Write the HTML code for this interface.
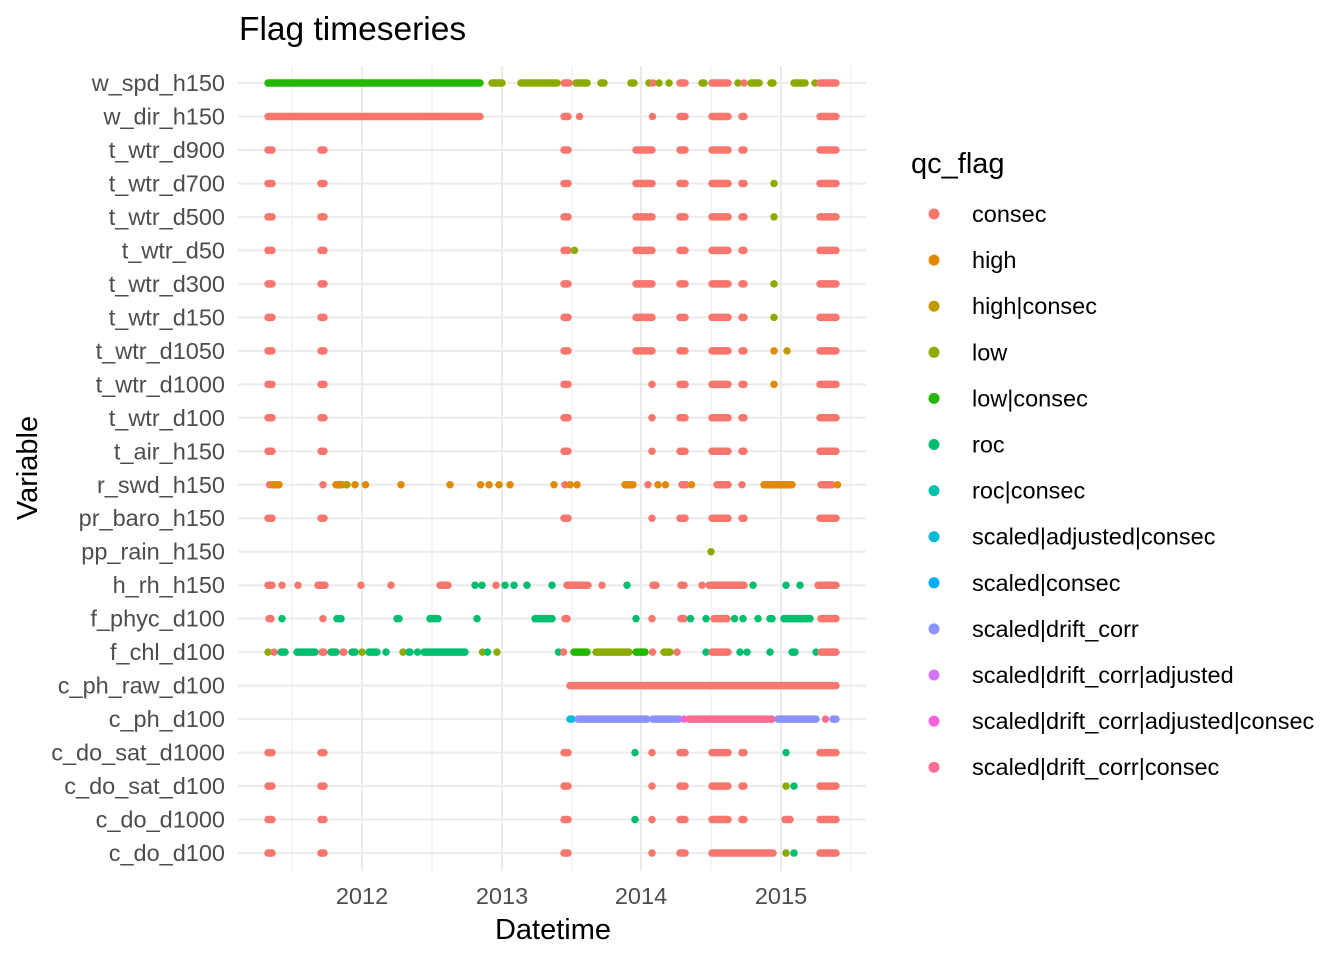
<!DOCTYPE html>
<html><head><meta charset="utf-8"><style>
body{margin:0;background:#fff}
svg text{font-family:"Liberation Sans",sans-serif}
</style></head><body>
<svg id="s" width="1344" height="960" xmlns="http://www.w3.org/2000/svg">
<rect width="1344" height="960" fill="#fff"/>
<g id="grid"></g><g id="data"></g>
<text x="239" y="40" font-size="33.5" fill="#000">Flag timeseries</text>
<g font-size="23.5" fill="#4D4D4D" text-anchor="middle">
<text x="362" y="904">2012</text><text x="502" y="904">2013</text><text x="641" y="904">2014</text><text x="781" y="904">2015</text>
</g>
<text x="553" y="939" font-size="29" text-anchor="middle" fill="#000">Datetime</text>
<text transform="translate(37,468) rotate(-90)" font-size="29" text-anchor="middle" fill="#000">Variable</text>
<g id="ylab" font-size="23.5" fill="#4D4D4D" text-anchor="end"></g>
<text x="911" y="173" font-size="29" fill="#000">qc_flag</text>
<g id="leg" font-size="23.5" fill="#000"></g>
</svg>
<script>
var ns="http://www.w3.org/2000/svg";
function el(p,t,a,txt){var e=document.createElementNS(ns,t);for(var k in a)e.setAttribute(k,a[k]);if(txt)e.textContent=txt;document.getElementById(p).appendChild(e);}
var names=["w_spd_h150","w_dir_h150","t_wtr_d900","t_wtr_d700","t_wtr_d500","t_wtr_d50","t_wtr_d300","t_wtr_d150","t_wtr_d1050","t_wtr_d1000","t_wtr_d100","t_air_h150","r_swd_h150","pr_baro_h150","pp_rain_h150","h_rh_h150","f_phyc_d100","f_chl_d100","c_ph_raw_d100","c_ph_d100","c_do_sat_d1000","c_do_sat_d100","c_do_d1000","c_do_d100"];
function Y(i){return 83+i*33.48;}
[292,432,572,711,851].forEach(function(x){el("grid","line",{x1:x,x2:x,y1:66,y2:871,stroke:"#EBEBEB","stroke-width":1});});
[362,502,641,781].forEach(function(x){el("grid","line",{x1:x,x2:x,y1:66,y2:871,stroke:"#EBEBEB","stroke-width":2});});
names.forEach(function(n,i){el("grid","line",{x1:238,x2:866,y1:Y(i),y2:Y(i),stroke:"#EBEBEB","stroke-width":2});el("ylab","text",{x:225,y:Y(i)+8},n);});
var C={c:"#F8766D",h:"#E18A00",hc:"#BE9C00",l:"#8CAB00",lc:"#24B700",r:"#00BE70",rc:"#00C1AB",sac:"#00BBDA",sc:"#00ACFC",sd:"#8B93FF",sda:"#D575FE",sdac:"#F962DD",sdc:"#FF6C91"};
var base=[[265,275],[318,327],[561,571],[633,655],[677,688],[709,731],[739,747],[817,839]];
var base2=[[265,275],[318,327],[561,571],[649,655],[677,688],[709,731],[739,747],[817,839]];
function R(a,c){return a.map(function(s){return [s[0],s[1],c||"c"];});}
var D=[];
D[0]=[[265,483,"lc"],[489,505,"l"],[518,560,"l"],[561,572,"c"],[573,590,"l"],[598,607,"l"],[628,637,"l"],[648,650,"l"],[650,656,"c"],[658,660,"l"],[669,669,"l"],[677,688,"c"],[699,707,"l"],[709,731,"c"],[736,740,"l"],[741,747,"c"],[748,762,"l"],[768,776,"l"],[791,808,"l"],[814,816,"l"],[817,839,"c"]];
D[1]=[[265,483,"c"],[561,571,"c"],[579,580,"c"],[652,653,"c"],[677,688,"c"],[709,731,"c"],[739,747,"c"],[817,839,"c"]];
D[2]=R(base);D[3]=R(base).concat([[774,774,"l"]]);D[4]=R(base).concat([[774,774,"l"]]);
D[5]=R(base.filter(function(s){return s[0]!=561})).concat([[561,571,"c"],[572,577,"l"]]);
D[6]=R(base).concat([[774,774,"l"]]);D[7]=R(base).concat([[774,774,"l"]]);
D[8]=R(base).concat([[774,774,"h"],[787,787,"hc"]]);
D[9]=R(base2).concat([[774,774,"h"]]);D[10]=R(base2);D[11]=R(base2);
D[12]=[[268,271,"c"],[270,280,"h"],[279,279,"h"],[320,326,"c"],[333,345,"h"],[343,350,"hc"],[352,358,"h"],[363,368,"h"],[401,401,"h"],[450,450,"h"],[479,482,"h"],[488,490,"h"],[499,499,"h"],[507,513,"h"],[554,554,"h"],[563,567,"c"],[568,572,"h"],[577,577,"h"],[622,636,"h"],[646,650,"c"],[656,660,"h"],[665,666,"h"],[679,689,"c"],[691,692,"h"],[714,731,"c"],[739,745,"c"],[761,795,"h"],[818,835,"c"],[837,838,"h"]];
D[13]=R(base2);D[14]=[[711,711,"l"]];
D[15]=[[265,275,"c"],[282,282,"c"],[298,298,"c"],[315,328,"c"],[361,361,"c"],[389,393,"c"],[437,451,"c"],[475,475,"r"],[482,482,"r"],[493,499,"c"],[505,505,"r"],[514,514,"r"],[527,527,"r"],[552,552,"r"],[564,591,"c"],[599,605,"c"],[627,627,"r"],[650,659,"c"],[678,687,"c"],[700,704,"c"],[706,747,"c"],[753,753,"r"],[784,788,"r"],[797,803,"r"],[815,839,"c"]];
D[16]=[[266,274,"c"],[280,284,"r"],[320,326,"c"],[334,344,"r"],[394,402,"r"],[427,441,"r"],[477,477,"r"],[532,555,"r"],[562,570,"c"],[636,636,"r"],[652,652,"c"],[678,687,"c"],[689,692,"r"],[706,706,"r"],[711,730,"c"],[733,736,"r"],[741,745,"r"],[756,760,"r"],[767,775,"r"],[781,813,"r"],[818,839,"c"]];
D[17]=[[266,270,"l"],[271,277,"c"],[278,288,"r"],[294,318,"r"],[319,327,"c"],[328,339,"r"],[340,347,"c"],[349,358,"r"],[359,365,"l"],[366,380,"r"],[386,386,"r"],[401,405,"l"],[406,413,"r"],[416,419,"r"],[421,468,"r"],[480,485,"l"],[485,490,"r"],[497,497,"l"],[556,561,"r"],[562,565,"c"],[571,590,"lc"],[593,632,"l"],[633,648,"lc"],[650,655,"c"],[661,673,"l"],[675,679,"c"],[706,706,"r"],[709,731,"c"],[740,740,"r"],[747,747,"r"],[767,773,"r"],[789,798,"r"],[816,816,"r"],[818,839,"c"]];
D[18]=[[567,839,"c"]];
D[19]=[[567,575,"sac"],[575,650,"sd"],[650,682,"sd"],[682,686,"sdac"],[686,775,"sdc"],[775,819,"sd"],[823,828,"sdc"],[830,839,"sd"]];
D[20]=R(base2).concat([[635,635,"r"],[786,786,"r"]]);
D[21]=R(base2).concat([[786,786,"l"],[794,794,"r"]]);
D[22]=R([[265,275],[318,327],[561,571],[649,655],[677,688],[709,731],[739,747],[782,793],[817,839]]).concat([[635,635,"r"]]);
D[23]=R([[265,275],[318,327],[561,571],[649,655],[677,688],[709,776],[817,839]]).concat([[786,786,"l"],[794,794,"r"]]);
D.forEach(function(row,i){row.forEach(function(s){var a=s[0],b=s[1];if(b-a>6){a+=3;b-=3;}else{a=b=(a+b)/2;}el("data","line",{x1:a,x2:b+0.01,y1:Y(i),y2:Y(i),stroke:C[s[2]],"stroke-width":7.5,"stroke-linecap":"round"});});});
var leg=[["consec","c"],["high","h"],["high|consec","hc"],["low","l"],["low|consec","lc"],["roc","r"],["roc|consec","rc"],["scaled|adjusted|consec","sac"],["scaled|consec","sc"],["scaled|drift_corr","sd"],["scaled|drift_corr|adjusted","sda"],["scaled|drift_corr|adjusted|consec","sdac"],["scaled|drift_corr|consec","sdc"]];
leg.forEach(function(l,i){var y=214+i*46.1;el("leg","circle",{cx:934,cy:y,r:5.5,fill:C[l[1]]});el("leg","text",{x:972,y:y+8},l[0]);});
</script>
</body></html>
